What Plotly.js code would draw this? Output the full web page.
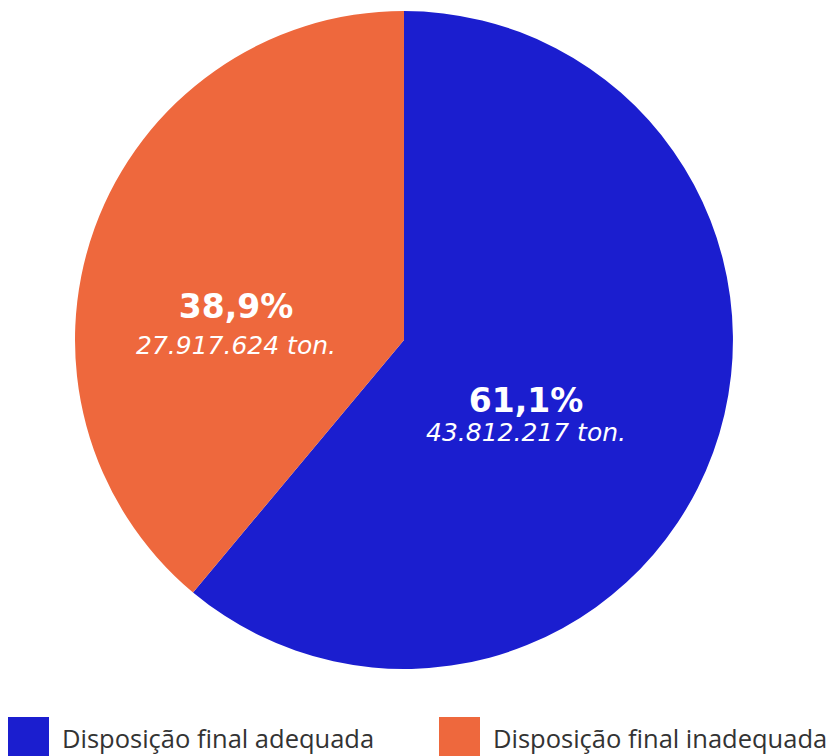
<!DOCTYPE html>
<html>
<head>
<meta charset="utf-8">
<script src="https://cdn.plot.ly/plotly-3.0.1.min.js"></script>
<style>html,body{margin:0;padding:0;background:#fff;}#chart{width:832px;height:756px;}</style>
</head>
<body>
<div id="chart"></div>
<script>
const categories = ["Disposição final adequada", "Disposição final inadequada"];
const values = [43812217, 27917624];
const colors = ["#1b1ecf", "#ee683d"];

const trace = {
  type: "pie",
  labels: categories,
  values: values,
  sort: false,
  direction: "clockwise",
  rotation: 0,
  marker: { colors: colors, line: { width: 0 } },
  textinfo: "none",
  hoverinfo: "label+value+percent",
  domain: { x: [0.0901, 0.8810], y: [0.1151, 0.9854] },
  showlegend: false
};

const total = values.reduce((a, b) => a + b, 0);
const fmtPct = v => (v / total * 100).toFixed(1).replace(".", ",") + "%";
const fmtTon = v => v.toString().replace(/\B(?=(\d{3})+(?!\d))/g, ".") + " ton.";

// label block placement (pixels): [center x, middle y, line-spacing base size]
const labelPos = [[526, 414, 22.5], [236, 323, 27.5]];

const shapes = [];
const annotations = [];
const legendX = [8, 439];
categories.forEach((c, i) => {
  shapes.push({
    type: "rect", xref: "paper", yref: "paper",
    x0: legendX[i] / 832, x1: (legendX[i] + 41) / 832,
    y0: -0.02, y1: 1 - 717 / 756,
    fillcolor: colors[i], line: { width: 0 }
  });
  annotations.push({
    xref: "paper", yref: "paper",
    x: (legendX[i] + 52) / 832, y: 1 - 738 / 756,
    xanchor: "left", yanchor: "middle", showarrow: false,
    text: c,
    font: { family: "'Open Sans', sans-serif", size: 25.5, color: "#333333" }
  });
  const p = labelPos[i];
  annotations.push({
    xref: "paper", yref: "paper",
    x: p[0] / 832, y: 1 - p[1] / 756,
    xanchor: "center", yanchor: "middle", showarrow: false, align: "center",
    text: "<span style='font-size:33px;font-weight:bold'>" + fmtPct(values[i]) + "</span><br>" +
          "<span style='font-size:25px;font-style:italic'>" + fmtTon(values[i]) + "</span>",
    font: { family: "'DejaVu Sans', sans-serif", size: p[2], color: "#ffffff" }
  });
});

const layout = {
  width: 832, height: 756,
  margin: { l: 0, r: 0, t: 0, b: 0 },
  paper_bgcolor: "#ffffff",
  showlegend: false,
  shapes: shapes,
  annotations: annotations
};

Plotly.newPlot("chart", [trace], layout, { displayModeBar: false, staticPlot: true });
</script>
</body>
</html>
